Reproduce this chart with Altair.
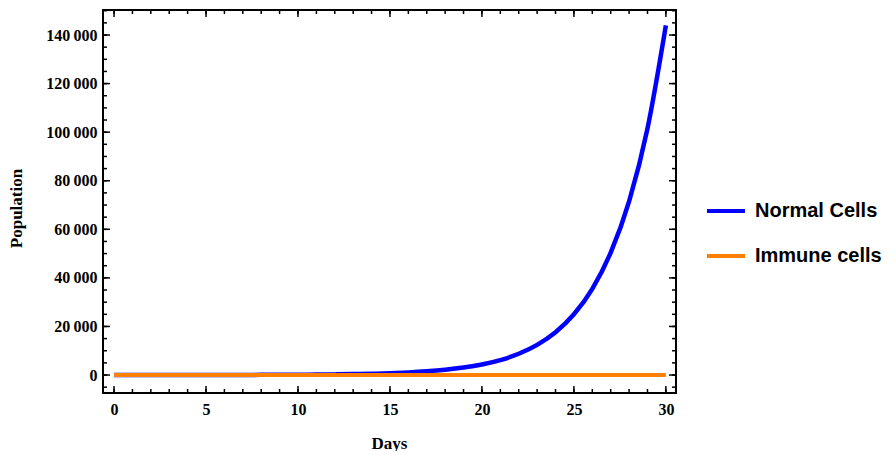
import altair as alt
import pandas as pd

days = list(range(0, 31))
normal_cells = [4, 6, 8, 11, 16, 23, 32, 46, 65, 92, 131, 186, 265, 375, 533, 756,
                1070, 1520, 2160, 3070, 4350, 6170, 8760, 12400, 17600, 25000,
                35500, 50400, 71500, 101500, 144000]
immune_cells = [30] * 31
series_names = ["Normal Cells", "Immune cells"]
series_colors = ["#0000ff", "#ff8000"]

x_major = [0, 5, 10, 15, 20, 25, 30]
x_minor = list(range(0, 31))
y_major = [0, 20000, 40000, 60000, 80000, 100000, 120000, 140000]
y_minor = list(range(-5000, 150001, 5000))

W, H = 573, 383
xdom = [-0.6, 30.55]
ydom = [-7400, 150300]

df_n = pd.DataFrame({"Days": days, "Population": normal_cells, "series": series_names[0]})
df_i = pd.DataFrame({"Days": days, "Population": immune_cells, "series": series_names[1]})

xscale = alt.Scale(domain=xdom, nice=False, zero=False)
yscale = alt.Scale(domain=ydom, nice=False, zero=False)
cscale = alt.Scale(domain=series_names, range=series_colors)

serif = "Liberation Serif"
xaxis = alt.Axis(values=x_major, ticks=False, domain=False, grid=False, labelPadding=8,
                 labelFont=serif, labelFontWeight="bold", labelFontSize=16, labelColor="black",
                 title="Days", titleFont=serif, titleFontWeight="bold", titleFontSize=17,
                 titleColor="black", titleX=286, titleY=50, titleBaseline="middle")
yaxis = alt.Axis(values=y_major, ticks=False, domain=False, grid=False, labelPadding=6,
                 labelFont=serif, labelFontWeight="bold", labelFontSize=16, labelColor="black",
                 labelExpr="datum.value >= 1000 ? floor(datum.value/1000) + '\u2009000' : datum.label",
                 title="Population", titleFont=serif, titleFontWeight="bold", titleFontSize=17,
                 titleColor="black", titleX=-87, titleY=198, titleAngle=-90, titleBaseline="middle",
                 titleAlign="center")

legend = alt.Legend(title=None, orient="none", legendX=602, legendY=180,
                    symbolType="stroke", symbolSize=1444, symbolStrokeWidth=4,
                    labelFont="Liberation Sans", labelFontWeight="bold", labelFontSize=20,
                    labelColor="black", labelOffset=8, rowPadding=14, padding=0)

normal = alt.Chart(df_n).mark_line(strokeWidth=4.5, interpolate="monotone", clip=True).encode(
    x=alt.X("Days:Q", scale=xscale, axis=xaxis),
    y=alt.Y("Population:Q", scale=yscale, axis=yaxis),
    color=alt.Color("series:N", scale=cscale, legend=legend),
)
immune = alt.Chart(df_i).mark_line(strokeWidth=4, clip=True).encode(
    x=alt.X("Days:Q", scale=xscale),
    y=alt.Y("Population:Q", scale=yscale),
    color=alt.Color("series:N", scale=cscale, legend=legend),
)

def xticks(vals, length):
    d = pd.DataFrame({"Days": vals})
    bottom = alt.Chart(d).mark_rule(color="black", strokeWidth=1.5).encode(
        x=alt.X("Days:Q", scale=xscale), y=alt.value(H), y2=alt.value(H - length))
    top = alt.Chart(d).mark_rule(color="black", strokeWidth=1.5).encode(
        x=alt.X("Days:Q", scale=xscale), y=alt.value(0), y2=alt.value(length))
    return [bottom, top]

def yticks(vals, length):
    d = pd.DataFrame({"Population": vals})
    left = alt.Chart(d).mark_rule(color="black", strokeWidth=1.5).encode(
        y=alt.Y("Population:Q", scale=yscale), x=alt.value(0), x2=alt.value(length))
    right = alt.Chart(d).mark_rule(color="black", strokeWidth=1.5).encode(
        y=alt.Y("Population:Q", scale=yscale), x=alt.value(W), x2=alt.value(W - length))
    return [left, right]

layers = [normal, immune] + xticks(x_minor, 4) + xticks(x_major, 7) + yticks(y_minor, 4) + yticks(y_major, 7)

chart = alt.layer(*layers).properties(
    width=W, height=H,
    autosize=alt.AutoSizeParams(type="none"),
    padding={"left": 95, "top": 2, "right": 210, "bottom": 58},
).configure(background="white").configure_view(stroke="black", strokeWidth=2)

chart.save("out.html", embed_options={"renderer": "svg", "actions": False})
